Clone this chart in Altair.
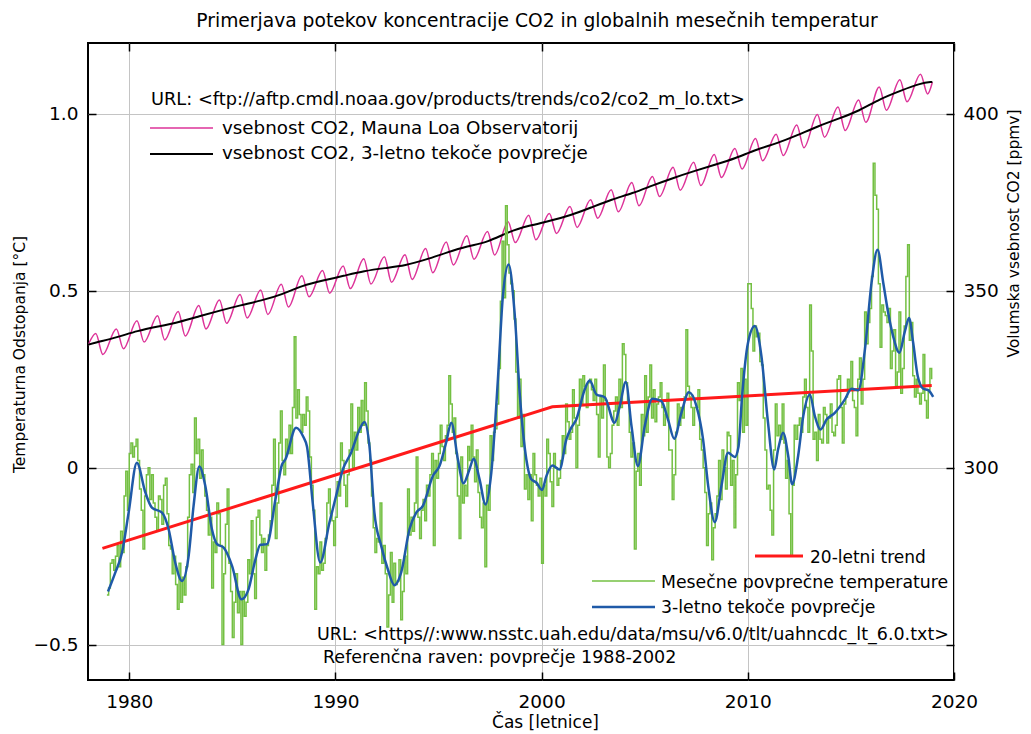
import altair as alt
import pandas as pd

FONT = "DejaVu Sans"

# ---------------- texts ----------------
title_text = "Primerjava potekov koncentracije CO2 in globalnih mesečnih temperatur"
x_title = "Čas [letnice]"
y_title = "Temperaturna Odstopanja [°C]"
y2_title = "Volumska vsebnost CO2 [ppmv]"
co2_url = "URL: <ftp://aftp.cmdl.noaa.gov/products/trends/co2/co2_m_lo.txt>"
co2_label_raw = "vsebnost CO2, Mauna Loa Observatorij"
co2_label_avg = "vsebnost CO2, 3-letno tekoče povprečje"
trend_label = "20-letni trend"
monthly_label = "Mesečne povprečne temperature"
avg_label = "3-letno tekoče povprečje"
temp_url = "URL: <https//:www.nsstc.uah.edu/data/msu/v6.0/tlt/uahncdc_lt_6.0.txt>"
ref_text = "Referenčna raven: povprečje 1988-2002"

# ---------------- ticks ----------------
x_ticks = [1980, 1990, 2000, 2010, 2020]
temp_ticks = [-0.5, 0.0, 0.5, 1.0]
co2_ticks = [250, 300, 350, 400]

# ---------------- monthly temperature anomalies (from Dec 1978) ----------------
temp_start = 1978 + 11 / 12
temp_monthly = [
    -0.36,
    -0.34, -0.27, -0.26, -0.29, -0.25, -0.22, -0.28, -0.18, -0.24, -0.08, -0.01, -0.12,  # 1979
    0.04, 0.07, 0.03, 0.06, 0.08, 0.02, -0.06, -0.12, -0.23, -0.08, -0.02, 0.00,  # 1980
    -0.09, -0.02, -0.10, -0.14, -0.18, -0.08, -0.09, -0.16, -0.05, -0.03, -0.13, -0.22,  # 1981
    -0.23, -0.30, -0.25, -0.33, -0.40, -0.27, -0.38, -0.31, -0.36, -0.28, -0.14, -0.02,  # 1982
    0.01, -0.07, 0.14, 0.04, 0.08, -0.03, 0.05, -0.02, -0.08, -0.12, -0.19, -0.14,  # 1983
    -0.34, -0.21, -0.24, -0.10, -0.13, -0.22, -0.50, -0.30, -0.16, -0.06, -0.27, -0.35,  # 1984
    -0.48, -0.38, -0.30, -0.41, -0.35, -0.50, -0.35, -0.42, -0.38, -0.26, -0.30, -0.15,  # 1985
    -0.30, -0.37, -0.14, -0.12, -0.19, -0.24, -0.20, -0.29, -0.22, -0.19, -0.15, -0.05,  # 1986
    0.08, -0.20, -0.10, 0.07, 0.16, 0.02, -0.02, 0.08, 0.04, 0.12, 0.04, 0.17,  # 1987
    0.37, 0.14, 0.22, 0.15, 0.10, 0.15, 0.12, 0.20, 0.16, 0.03, -0.05, -0.12,  # 1988
    -0.40, -0.28, -0.30, -0.21, -0.29, -0.27, -0.20, -0.10, -0.06, -0.13, -0.15, -0.22,  # 1989
    -0.14, -0.04, -0.08, 0.07, 0.02, -0.05, -0.11, -0.02, 0.05, 0.18, 0.00, 0.10,  # 1990
    0.05, 0.17, 0.10, 0.19, 0.12, 0.24, 0.16, 0.07, 0.02, -0.08, -0.17, -0.24,  # 1991
    -0.20, -0.21, -0.10, -0.27, -0.22, -0.30, -0.45, -0.36, -0.24, -0.38, -0.27, -0.33,  # 1992
    -0.32, -0.26, -0.43, -0.35, -0.25, -0.30, -0.06, -0.19, -0.14, -0.18, -0.10, 0.03,  # 1993
    -0.14, -0.20, -0.12, -0.09, -0.15, -0.05, -0.08, -0.02, 0.04, -0.22, 0.02, -0.03,  # 1994
    0.04, 0.12, 0.06, 0.02, 0.09, 0.12, 0.26, 0.18, 0.10, 0.14, 0.04, -0.08,  # 1995
    -0.20, 0.03, -0.10, -0.05, -0.08, 0.06, 0.02, 0.12, 0.03, -0.04, 0.05, -0.07,  # 1996
    -0.14, -0.17, -0.10, -0.28, -0.05, -0.12, 0.09, 0.02, 0.10, 0.11, 0.18, 0.28,  # 1997
    0.47, 0.64, 0.48, 0.74, 0.63, 0.55, 0.52, 0.50, 0.42, 0.27, 0.14, 0.25,  # 1998
    0.06, 0.15, -0.06, -0.02, -0.09, -0.02, -0.15, 0.04, -0.02, -0.05, -0.08, -0.03,  # 1999
    -0.27, -0.05, -0.08, 0.08, 0.04, -0.04, -0.11, 0.04, 0.00, -0.05, -0.03, 0.02,  # 2000
    0.09, 0.04, 0.18, 0.13, 0.08, 0.10, 0.22, 0.14, 0.00, 0.12, 0.25, 0.18,  # 2001
    0.26, 0.23, 0.17, 0.24, 0.25, 0.22, 0.19, 0.25, 0.15, 0.03, 0.20, 0.14,  # 2002
    0.29, 0.19, 0.03, 0.00, 0.04, 0.12, 0.16, 0.20, 0.12, 0.25, 0.17, 0.35,  # 2003
    0.32, 0.24, 0.19, 0.10, 0.03, 0.07, -0.23, -0.01, 0.04, -0.05, 0.15, 0.09,  # 2004
    0.26, 0.10, 0.20, 0.29, 0.14, 0.22, 0.13, 0.18, 0.20, 0.24, 0.17, 0.12,  # 2005
    0.15, 0.21, 0.05, 0.05, -0.09, -0.02, 0.10, 0.18, 0.12, 0.17, 0.14, 0.20,  # 2006
    0.39, 0.23, 0.20, 0.17, 0.12, 0.17, 0.17, 0.22, 0.08, 0.05, 0.00, -0.07,  # 2007
    -0.22, -0.13, -0.10, -0.26, -0.17, -0.13, -0.08, 0.02, -0.09, 0.05, 0.00, -0.06,  # 2008
    0.10, 0.09, -0.05, 0.02, -0.17, -0.02, 0.24, 0.19, 0.28, 0.10, 0.25, 0.12,  # 2009
    0.52, 0.52, 0.45, 0.33, 0.40, 0.37, 0.38, 0.30, 0.29, 0.14, 0.05, -0.06,  # 2010
    -0.05, -0.12, -0.19, 0.05, 0.18, 0.09, 0.12, 0.08, 0.18, 0.07, -0.03, 0.02,  # 2011
    -0.13, -0.25, -0.05, 0.12, 0.08, 0.12, 0.14, 0.10, 0.20, 0.25, 0.17, 0.10,  # 2012
    0.46, 0.33, 0.08, 0.10, 0.02, 0.15, 0.08, 0.07, 0.17, 0.15, 0.07, 0.14,  # 2013
    0.18, 0.10, 0.09, 0.12, 0.25, 0.26, 0.17, 0.07, 0.18, 0.20, 0.25, 0.22,  # 2014
    0.30, 0.19, 0.17, 0.09, 0.25, 0.31, 0.18, 0.25, 0.44, 0.35, 0.41, 0.45,  # 2015
    0.54, 0.86, 0.77, 0.73, 0.52, 0.34, 0.46, 0.44, 0.43, 0.41, 0.45, 0.28,  # 2016
    0.33, 0.39, 0.23, 0.27, 0.44, 0.21, 0.28, 0.40, 0.54, 0.63, 0.36, 0.41,  # 2017
    0.26, 0.20, 0.25, 0.21, 0.18, 0.21, 0.32, 0.19, 0.14, 0.22, 0.28, 0.25,  # 2018
]

# ---------------- smoothed temperature (blue) ----------------
blue_t = [1978.97, 1979.30, 1979.65, 1979.97, 1980.37, 1980.78, 1981.10, 1981.59, 1981.91,
          1982.23, 1982.56, 1982.88, 1983.12, 1983.40, 1983.69, 1984.01, 1984.26, 1984.58,
          1984.99, 1985.44, 1985.79, 1986.12, 1986.36, 1986.68, 1987.09, 1987.41, 1987.57,
          1988.09, 1988.46, 1988.62, 1988.90, 1989.26, 1989.71, 1990.03, 1990.36, 1990.76,
          1991.17, 1991.41, 1991.65, 1991.89, 1992.22, 1992.54, 1992.86, 1993.19, 1993.59,
          1993.92, 1994.24, 1994.72, 1995.05, 1995.37, 1995.62, 1995.94, 1996.21, 1996.50,
          1996.70, 1996.99, 1997.28, 1997.56, 1997.88, 1998.12, 1998.40, 1998.69, 1998.95,
          1999.26, 1999.50, 1999.74, 2000.02, 2000.23, 2000.52, 2000.87, 2001.20, 2001.44,
          2001.68, 2002.09, 2002.33, 2002.66, 2003.06, 2003.54, 2003.79, 2004.08, 2004.36,
          2004.67, 2005.00, 2005.37, 2005.81, 2006.13, 2006.43, 2006.78, 2007.14, 2007.51,
          2007.83, 2008.08, 2008.40, 2008.72, 2009.04, 2009.37, 2009.55, 2009.72, 2010.01,
          2010.34, 2010.66, 2010.98, 2011.28, 2011.47, 2011.71, 2011.96, 2012.15, 2012.44,
          2012.69, 2013.01, 2013.25, 2013.53, 2013.82, 2014.22, 2014.71, 2015.03, 2015.36,
          2015.68, 2016.00, 2016.29, 2016.57, 2016.81, 2017.05, 2017.35, 2017.62, 2017.82,
          2018.02, 2018.24, 2018.51, 2018.75, 2018.99]
blue_v = [-0.35, -0.30, -0.24, -0.127, 0.014, -0.07, -0.113, -0.127, -0.174,
          -0.268, -0.32, -0.25, -0.108, 0.003, -0.052, -0.174, -0.216, -0.226,
          -0.278, -0.372, -0.343, -0.259, -0.218, -0.216, -0.09, 0.009, 0.023,
          0.113, 0.085, 0.06, -0.10, -0.268, -0.155, -0.08, -0.005, 0.042,
          0.108, 0.129, 0.061, -0.127, -0.221, -0.287, -0.332, -0.296, -0.174,
          -0.127, -0.108, -0.024, 0.005, 0.071, 0.127, 0.023, -0.044, -0.005,
          0.025, -0.033, -0.104, -0.014, 0.249, 0.484, 0.574, 0.437, 0.20,
          0.023, -0.033, -0.042, -0.063, -0.024, 0.006, -0.005, 0.08, 0.113,
          0.136, 0.221, 0.246, 0.207, 0.199, 0.127, 0.174, 0.242, 0.117,
          0.005, 0.117, 0.195, 0.188, 0.136, 0.082, 0.155, 0.213, 0.174,
          0.08, -0.052, -0.154, -0.052, 0.042, 0.03, 0.06, 0.20, 0.353,
          0.40, 0.315, 0.127, -0.005, 0.052, 0.099, 0.033, -0.047, 0.033,
          0.146, 0.207, 0.146, 0.108, 0.136, 0.155, 0.193, 0.223, 0.219,
          0.334, 0.522, 0.616, 0.522, 0.437, 0.371, 0.325, 0.386, 0.423,
          0.353, 0.259, 0.223, 0.219, 0.20]

# ---------------- 20-year trend (red) ----------------
trend_t = [1978.70, 2000.52, 2018.92]
trend_v = [-0.228, 0.172, 0.232]

# ---------------- CO2, Mauna Loa ----------------
co2_years = list(range(1978, 2019))
co2_may = [337.9, 339.2, 341.5, 342.9, 344.1, 345.8, 347.4, 348.9, 350.2, 351.8,
           354.2, 355.7, 357.0, 359.0, 359.6, 360.2, 361.9, 363.8, 365.5, 366.7,
           369.5, 371.3, 371.8, 373.8, 375.7, 378.5, 380.6, 382.3, 384.9, 386.3,
           388.5, 390.2, 393.0, 394.2, 396.8, 399.8, 401.9, 403.9, 407.6, 409.6, 411.2]
co2_sep = [332.0, 333.6, 335.5, 336.1, 337.2, 339.2, 340.8, 342.3, 343.3, 345.4,
           348.3, 349.3, 350.6, 351.9, 352.4, 353.2, 355.1, 357.3, 358.9, 360.1,
           363.6, 364.4, 366.2, 367.9, 370.5, 372.3, 374.0, 376.6, 378.4, 379.7,
           382.0, 384.4, 386.7, 388.2, 390.4, 393.4, 395.3, 397.6, 401.0, 403.4, 405.6]
co2_edge_t = [1978.0, 2018.95]
co2_edge_v = [334.5, 408.9]

co2_avg_years = list(range(1977, 2019))
co2_avg = [333.8, 335.4, 336.8, 338.7, 339.9, 341.1, 342.8, 344.4, 345.9, 347.2,
           348.9, 351.5, 352.9, 354.2, 355.6, 356.4, 357.1, 358.8, 360.8, 362.6,
           363.7, 366.7, 368.4, 369.7, 371.3, 373.5, 375.8, 377.5, 379.8, 381.9,
           383.8, 385.6, 387.4, 389.9, 391.6, 393.9, 396.5, 398.6, 400.8, 404.2,
           406.5, 408.7]
co2_avg_end = (2018.95, 409.0)

# ---------------- tables ----------------
green_df = pd.DataFrame({"t": [temp_start + i / 12 for i in range(len(temp_monthly))],
                         "temp": temp_monthly})
blue_df = pd.DataFrame({"t": blue_t, "temp": blue_v})
trend_df = pd.DataFrame({"t": trend_t, "temp": trend_v})

pink_rows = [(co2_edge_t[0], co2_edge_v[0])]
for y, hi, lo in zip(co2_years, co2_may, co2_sep):
    pink_rows.append((y + 0.375, hi))
    pink_rows.append((y + 0.72, lo))
pink_rows.append((co2_edge_t[1], co2_edge_v[1]))
pink_df = pd.DataFrame(pink_rows, columns=["t", "ppm"])

black_rows = [(y + 0.4, v) for y, v in zip(co2_avg_years, co2_avg)] + [co2_avg_end]
black_df = pd.DataFrame(black_rows, columns=["t", "ppm"])

# ---------------- scales & axes ----------------
X_SCALE = alt.Scale(domain=[1978, 2020], nice=False, zero=False)
T_SCALE = alt.Scale(domain=[-0.6, 1.2], nice=False, zero=False)
C_SCALE = alt.Scale(domain=[240, 420], nice=False, zero=False)
GRID = "#c4c4c4"

tick_common = dict(domain=False, tickSize=8, tickColor="black", tickWidth=1.5, offset=-8,
                   labelFont=FONT, labelFontSize=18.5, labelColor="black", labelFlush=False,
                   labelOverlap=False, titleFont=FONT, titleFontWeight="normal",
                   titleColor="black")

x_bottom = alt.Axis(orient="bottom", values=x_ticks, format="d", grid=True, gridColor=GRID,
                    gridWidth=1, labelPadding=12, title=x_title, titleFontSize=17,
                    titlePadding=4, titleX=457, **tick_common)
x_top = alt.Axis(orient="top", values=x_ticks, labels=False, grid=False, title=None,
                 domain=False, tickSize=8, tickColor="black", tickWidth=1.5, offset=-8)
y_left = alt.Axis(orient="left", values=temp_ticks, grid=True, gridColor=GRID, gridWidth=1,
                  labelExpr="datum.value == 0 ? '0' : format(datum.value, '.1f')",
                  labelPadding=10, title=y_title, titleFontSize=15.5, titleAngle=270,
                  titleBaseline="middle", titleAlign="center", titleX=-77, titleY=311,
                  **tick_common)
y_right = alt.Axis(orient="right", values=co2_ticks, grid=False, format="d",
                   labelExpr="datum.value == 250 ? '' : datum.label",
                   labelPadding=9, title=y2_title, titleFontSize=15.5, titleAngle=270,
                   titleBaseline="middle", titleAlign="center", titleX=67, titleY=190,
                   **tick_common)

# ---------------- data layers ----------------
pink = alt.Chart(pink_df).mark_line(clip=True, interpolate="monotone", color="#dd3399",
                                    strokeWidth=1.5).encode(
    x=alt.X("t:Q", scale=X_SCALE, axis=None),
    y=alt.Y("ppm:Q", scale=C_SCALE, axis=y_right))
black = alt.Chart(black_df).mark_line(clip=True, interpolate="basis", color="black",
                                      strokeWidth=2).encode(
    x=alt.X("t:Q", scale=X_SCALE, axis=None),
    y=alt.Y("ppm:Q", scale=C_SCALE, axis=None))
green = alt.Chart(green_df).mark_line(clip=True, interpolate="step-after", color="#74c043",
                                      strokeWidth=1.5).encode(
    x=alt.X("t:Q", scale=X_SCALE, axis=x_bottom),
    y=alt.Y("temp:Q", scale=T_SCALE, axis=y_left))
red = alt.Chart(trend_df).mark_line(clip=True, color="#ff1a1a", strokeWidth=3).encode(
    x=alt.X("t:Q", scale=X_SCALE, axis=x_top),
    y=alt.Y("temp:Q", scale=T_SCALE, axis=None))
blue = alt.Chart(blue_df).mark_line(clip=True, interpolate="monotone", color="#1f5aa8",
                                    strokeWidth=2.5).encode(
    x=alt.X("t:Q", scale=X_SCALE, axis=None),
    y=alt.Y("temp:Q", scale=T_SCALE, axis=None))

# ---------------- key / annotations ----------------
one = alt.Data(values=[{"k": 1}])


def key_line(x1, x2, y, color, width):
    return alt.Chart(one).mark_rule(color=color, strokeWidth=width).encode(
        x=alt.value(x1), x2=alt.value(x2), y=alt.value(y))


def key_text(x, y, txt, size):
    return alt.Chart(one).mark_text(align="left", baseline="middle", font=FONT,
                                    fontSize=size, color="black").encode(
        x=alt.value(x), y=alt.value(y), text=alt.value(txt))


annotations = [
    key_text(63, 57, co2_url, 17.8),
    key_line(62, 125, 85, "#dd3399", 1.5), key_text(134, 86, co2_label_raw, 18.3),
    key_line(62, 125, 111, "black", 2), key_text(134, 111, co2_label_avg, 18.3),
    key_line(667, 715, 513, "#ff1a1a", 3), key_text(722, 515, trend_label, 17),
    key_line(504, 567, 538, "#74c043", 1.5), key_text(573, 540, monthly_label, 17.3),
    key_line(504, 567, 564, "#1f5aa8", 2.5), key_text(573, 565, avg_label, 17.3),
    key_text(229, 592, temp_url, 17.5),
    key_text(235, 615, ref_text, 17.5),
]

chart = alt.layer(pink, black, green, red, blue, *annotations).resolve_scale(
    y="independent"
).properties(
    width=866, height=637,
    padding={"left": 80, "top": 35, "right": 69, "bottom": 52},
    autosize=alt.AutoSizeParams(type="none"),
    background="white",
    title=alt.TitleParams(title_text, font=FONT, fontSize=18.7, fontWeight="normal",
                          color="black", anchor="middle", dx=16, offset=12),
).configure_view(stroke="black", strokeWidth=2)

chart.save("out.html", embed_options={"renderer": "svg", "actions": False})
